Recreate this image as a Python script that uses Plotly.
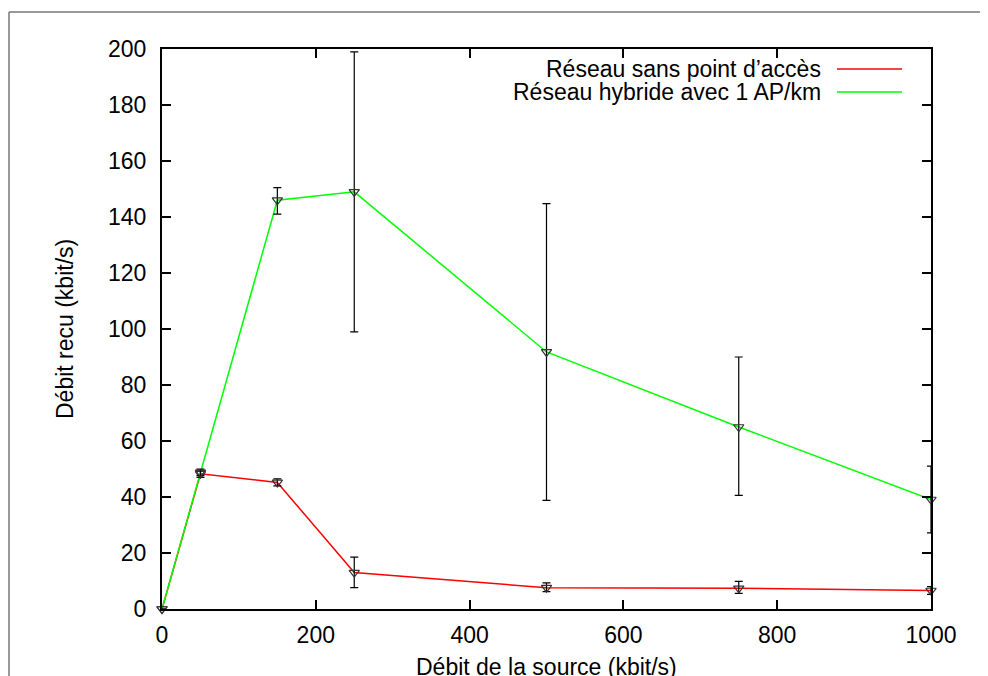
import plotly.graph_objects as go

# ---- data ----
x_source = [0, 50, 150, 250, 500, 750, 1000]

red_name = "Réseau sans point d’accès"
red_y = [0, 48.3, 45.2, 13.0, 7.6, 7.4, 6.6]
red_low = [0, 47.0, 44.0, 7.6, 6.2, 5.6, 5.2]
red_high = [0, 49.6, 46.5, 18.5, 9.3, 9.9, 8.0]

green_name = "Réseau hybride avec 1 AP/km"
green_y = [0, 48.8, 146.0, 149.0, 91.8, 65.0, 39.1]
green_low = [0, 47.6, 141.0, 99.0, 38.8, 40.6, 27.2]
green_high = [0, 50.0, 150.5, 199.0, 144.8, 90.0, 51.0]

x_ticks = [0, 200, 400, 600, 800, 1000]
y_ticks = [0, 20, 40, 60, 80, 100, 120, 140, 160, 180, 200]

x_title = "Débit de la source (kbit/s)"
y_title = "Débit recu (kbit/s)"

FONT = "Liberation Sans, Arial, Helvetica, sans-serif"
FS = 23
RED = "#ff0000"
GREEN = "#00ff00"

OFF = 8  # page body margin offset
FIG_W, FIG_H = 988 - OFF, 676 - OFF

fig = go.Figure()

for ys, col in [(red_y, RED), (green_y, GREEN)]:
    fig.add_trace(go.Scatter(x=x_source, y=ys, mode="lines",
                             line=dict(color=col, width=1.5),
                             showlegend=False, hoverinfo="skip", cliponaxis=False))

for name, ys, lo, hi in [(red_name, red_y, red_low, red_high),
                         (green_name, green_y, green_low, green_high)]:
    plus = [h - v for h, v in zip(hi, ys)]
    minus = [v - l for v, l in zip(ys, lo)]
    fig.add_trace(go.Scatter(
        x=x_source, y=ys, mode="markers", name=name, showlegend=False,
        cliponaxis=False,
        marker=dict(symbol="triangle-down-open", size=9, color="#333333",
                    line=dict(width=1.2, color="#333333")),
        error_y=dict(type="data", symmetric=False, array=plus, arrayminus=minus,
                     color="black", thickness=1.2, width=4)))

# target pixel geometry (screen coords)
L, R, T, B = 162, 931, 49, 609
W, H = R - L, B - T


def px(xp):
    return (xp - L) / W


def py(yp):
    return (B - yp) / H


annotations = []
shapes = []
leg_rows = [(red_name, RED, 69), (green_name, GREEN, 92)]
for text, col, yp in leg_rows:
    annotations.append(dict(x=px(823), y=py(yp), xref="paper", yref="paper",
                            text=text, showarrow=False, xanchor="right",
                            yanchor="middle",
                            font=dict(family=FONT, size=FS, color="black")))
    shapes.append(dict(type="line", xref="paper", yref="paper",
                       x0=px(837), x1=px(902), y0=py(yp), y1=py(yp),
                       line=dict(color=col, width=1.5)))

annotations.append(dict(x=0.5, y=py(667), xref="paper", yref="paper",
                        text=x_title, showarrow=False, xanchor="center",
                        yanchor="middle",
                        font=dict(family=FONT, size=FS, color="black")))
annotations.append(dict(x=px(65), y=0.5, xref="paper", yref="paper",
                        text=y_title, showarrow=False, textangle=-90,
                        xanchor="center", yanchor="middle",
                        font=dict(family=FONT, size=FS, color="black")))

# outer page frame
shapes.append(dict(type="line", xref="paper", yref="paper",
                   x0=px(9), x1=px(1000), y0=py(12), y1=py(12),
                   line=dict(color="#777777", width=1.5)))
shapes.append(dict(type="line", xref="paper", yref="paper",
                   x0=px(9), x1=px(9), y0=py(12), y1=py(700),
                   line=dict(color="#777777", width=1.5)))

axis_common = dict(showgrid=False, zeroline=False, showline=True,
                   linecolor="black", linewidth=2, mirror="ticks",
                   ticks="inside", ticklen=9, tickwidth=1.5, tickcolor="black",
                   tickfont=dict(family=FONT, size=FS, color="black"))

fig.update_layout(
    width=FIG_W, height=FIG_H,
    margin=dict(l=L - OFF, r=FIG_W - (R - OFF), t=T - OFF, b=FIG_H - (B - OFF),
                autoexpand=False),
    paper_bgcolor="white", plot_bgcolor="white",
    xaxis=dict(range=[0, 1000], tickvals=x_ticks, ticklabelstandoff=4,
               **axis_common),
    yaxis=dict(range=[0, 200], tickvals=y_ticks, ticklabelstandoff=9,
               **axis_common),
    annotations=annotations, shapes=shapes,
    showlegend=False,
)

fig.write_html("out.html", config={"displayModeBar": False})
